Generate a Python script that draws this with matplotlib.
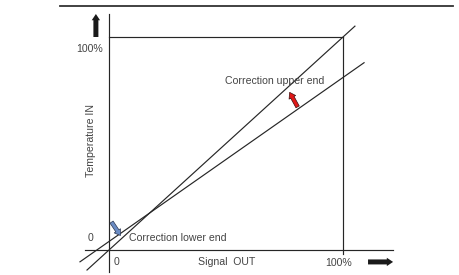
import numpy as np
import matplotlib.pyplot as plt

# calibration lines (Signal OUT -> Temperature IN), fractions of full scale
steep_x = [-0.094, 1.051]
steep_y = [-0.094, 1.051]
lower_x = [-0.124, 1.09]
lower_y = [0.04 + 0.77 * v for v in lower_x]

# correction arrows (tail, head)
upper_arrow = [(0.806, 0.672), (0.772, 0.740)]
lower_arrow = [(0.011, 0.131), (0.049, 0.068)]

labels = {"upper": "Correction upper end", "lower": "Correction lower end"}

plt.rcParams['font.family'] = ['Liberation Sans', 'DejaVu Sans']

fig = plt.figure(figsize=(4.6, 2.75), dpi=100)
ax = fig.add_axes([0, 0, 1, 1])
ax.set_xlim(-109 / 234, 351 / 234)
ax.set_ylim(-25 / 213, 250 / 213)
ax.axis('off')

lc = '#262626'
tc = '#444444'

# top border rule
ax.plot([-49 / 234, 344 / 234], [244 / 213, 244 / 213], color='#333333', lw=1.3)

# axes
ax.plot([0, 0], [-0.103, 1.108], color=lc, lw=0.85)
ax.plot([-0.103, 1.214], [0, 0], color=lc, lw=0.85)
# 100% frame
ax.plot([0, 1], [1, 1], color=lc, lw=0.85)
ax.plot([1, 1], [-0.02, 1], color=lc, lw=0.85)

# the two characteristic lines
ax.plot(steep_x, steep_y, color=lc, lw=0.85)
ax.plot(lower_x, lower_y, color=lc, lw=0.85)

# thick axis arrows
thick = dict(arrowstyle='simple,head_length=0.45,head_width=0.6,tail_width=0.36',
             fc='#1a1a1a', ec='none', mutation_scale=10, shrinkA=0, shrinkB=0)
ax.annotate('', xy=(-0.056, 1.108), xytext=(-0.056, 1.0), arrowprops=thick)
ax.annotate('', xy=(1.214, -0.056), xytext=(1.107, -0.056), arrowprops=thick)

# correction arrows
corr = 'simple,head_length=0.45,head_width=0.6,tail_width=0.3'
ax.annotate('', xy=upper_arrow[1], xytext=upper_arrow[0],
            arrowprops=dict(arrowstyle=corr, fc='#e01818', ec='#3a1010', lw=0.5,
                            mutation_scale=9, shrinkA=0, shrinkB=0))
ax.annotate('', xy=lower_arrow[1], xytext=lower_arrow[0],
            arrowprops=dict(arrowstyle=corr, fc='#6b8cc4', ec='#2a3550', lw=0.5,
                            mutation_scale=9, shrinkA=0, shrinkB=0))

fs = 7.6
ax.text(-0.026, 0.944, '100%', ha='right', va='center', fontsize=fs, color=tc)
ax.text(-0.081, 0.056, '0', ha='center', va='center', fontsize=fs, color=tc)
ax.text(0.034, -0.056, '0', ha='center', va='center', fontsize=fs, color=tc)
ax.text(0.979, -0.061, '100%', ha='center', va='center', fontsize=fs, color=tc)
ax.text(0.380, -0.056, 'Signal  OUT', ha='left', va='center', fontsize=fs, color=tc)
ax.text(-0.075, 0.516, 'Temperature IN', ha='center', va='center', rotation=90,
        fontsize=fs, color=tc)
ax.text(0.496, 0.793, labels['upper'], ha='left', va='center', fontsize=fs, color=tc)
ax.text(0.085, 0.056, labels['lower'], ha='left', va='center', fontsize=fs, color=tc)

fig.savefig('out.png', dpi=100)
